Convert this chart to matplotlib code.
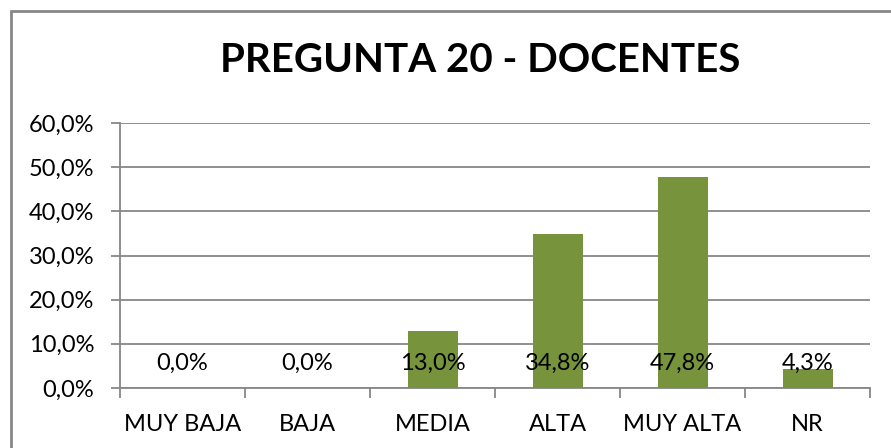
import numpy as np
import matplotlib.pyplot as plt
from matplotlib.patches import Rectangle

categorias = ['MUY BAJA', 'BAJA', 'MEDIA', 'ALTA', 'MUY ALTA', 'NR']
valores = [0.0, 0.0, 13.0, 34.8, 47.8, 4.3]
etiquetas = ['0,0%', '0,0%', '13,0%', '34,8%', '47,8%', '4,3%']
yticks = [0, 10, 20, 30, 40, 50, 60]
ytick_labels = ['0,0%', '10,0%', '20,0%', '30,0%', '40,0%', '50,0%', '60,0%']

plt.rcParams['font.family'] = ['Lato', 'DejaVu Sans']
gris = '#878787'

fig = plt.figure(figsize=(8.91, 4.48), dpi=100)
ax = fig.add_axes([120 / 891, 1 - 388 / 448, 750 / 891, 265 / 448])

x = np.arange(len(categorias))
ax.bar(x, valores, width=0.4, color='#77933C', zorder=3)

for xi, lab in zip(x, etiquetas):
    ax.annotate(lab, (xi, 0), xytext=(0, 18), textcoords='offset points',
                ha='center', va='center', fontsize=17, zorder=4)

ax.set_xlim(-0.5, len(categorias) - 0.5)
ax.set_ylim(0, 60)
ax.set_yticks(yticks)
ax.set_yticklabels(ytick_labels, fontsize=17)
ax.yaxis.grid(True, color=gris, linewidth=1.3, zorder=0)
ax.tick_params(axis='y', length=6.5, color=gris, width=1.3, pad=12)

ax.set_xticks(x)
ax.set_xticklabels(categorias, fontsize=17)
ax.set_xticks(np.arange(-0.5, len(categorias)), minor=True)
ax.tick_params(axis='x', which='major', length=0, pad=19)
ax.tick_params(axis='x', which='minor', length=7, color=gris, width=1.3)

for s in ['top', 'right']:
    ax.spines[s].set_visible(False)
for s in ['left', 'bottom']:
    ax.spines[s].set_color(gris)
    ax.spines[s].set_linewidth(1.3)

# marco del grafico
fig.patches.append(Rectangle((11 / 891, -0.1), 1.2, 1 - 11 / 448 + 0.1,
                             transform=fig.transFigure, fill=False,
                             edgecolor=gris, linewidth=2))

fig.text(480 / 891, 1 - 60 / 448, 'PREGUNTA 20 - DOCENTES', ha='center',
         va='center', fontsize=29, fontweight='bold')

plt.savefig('out.png')
